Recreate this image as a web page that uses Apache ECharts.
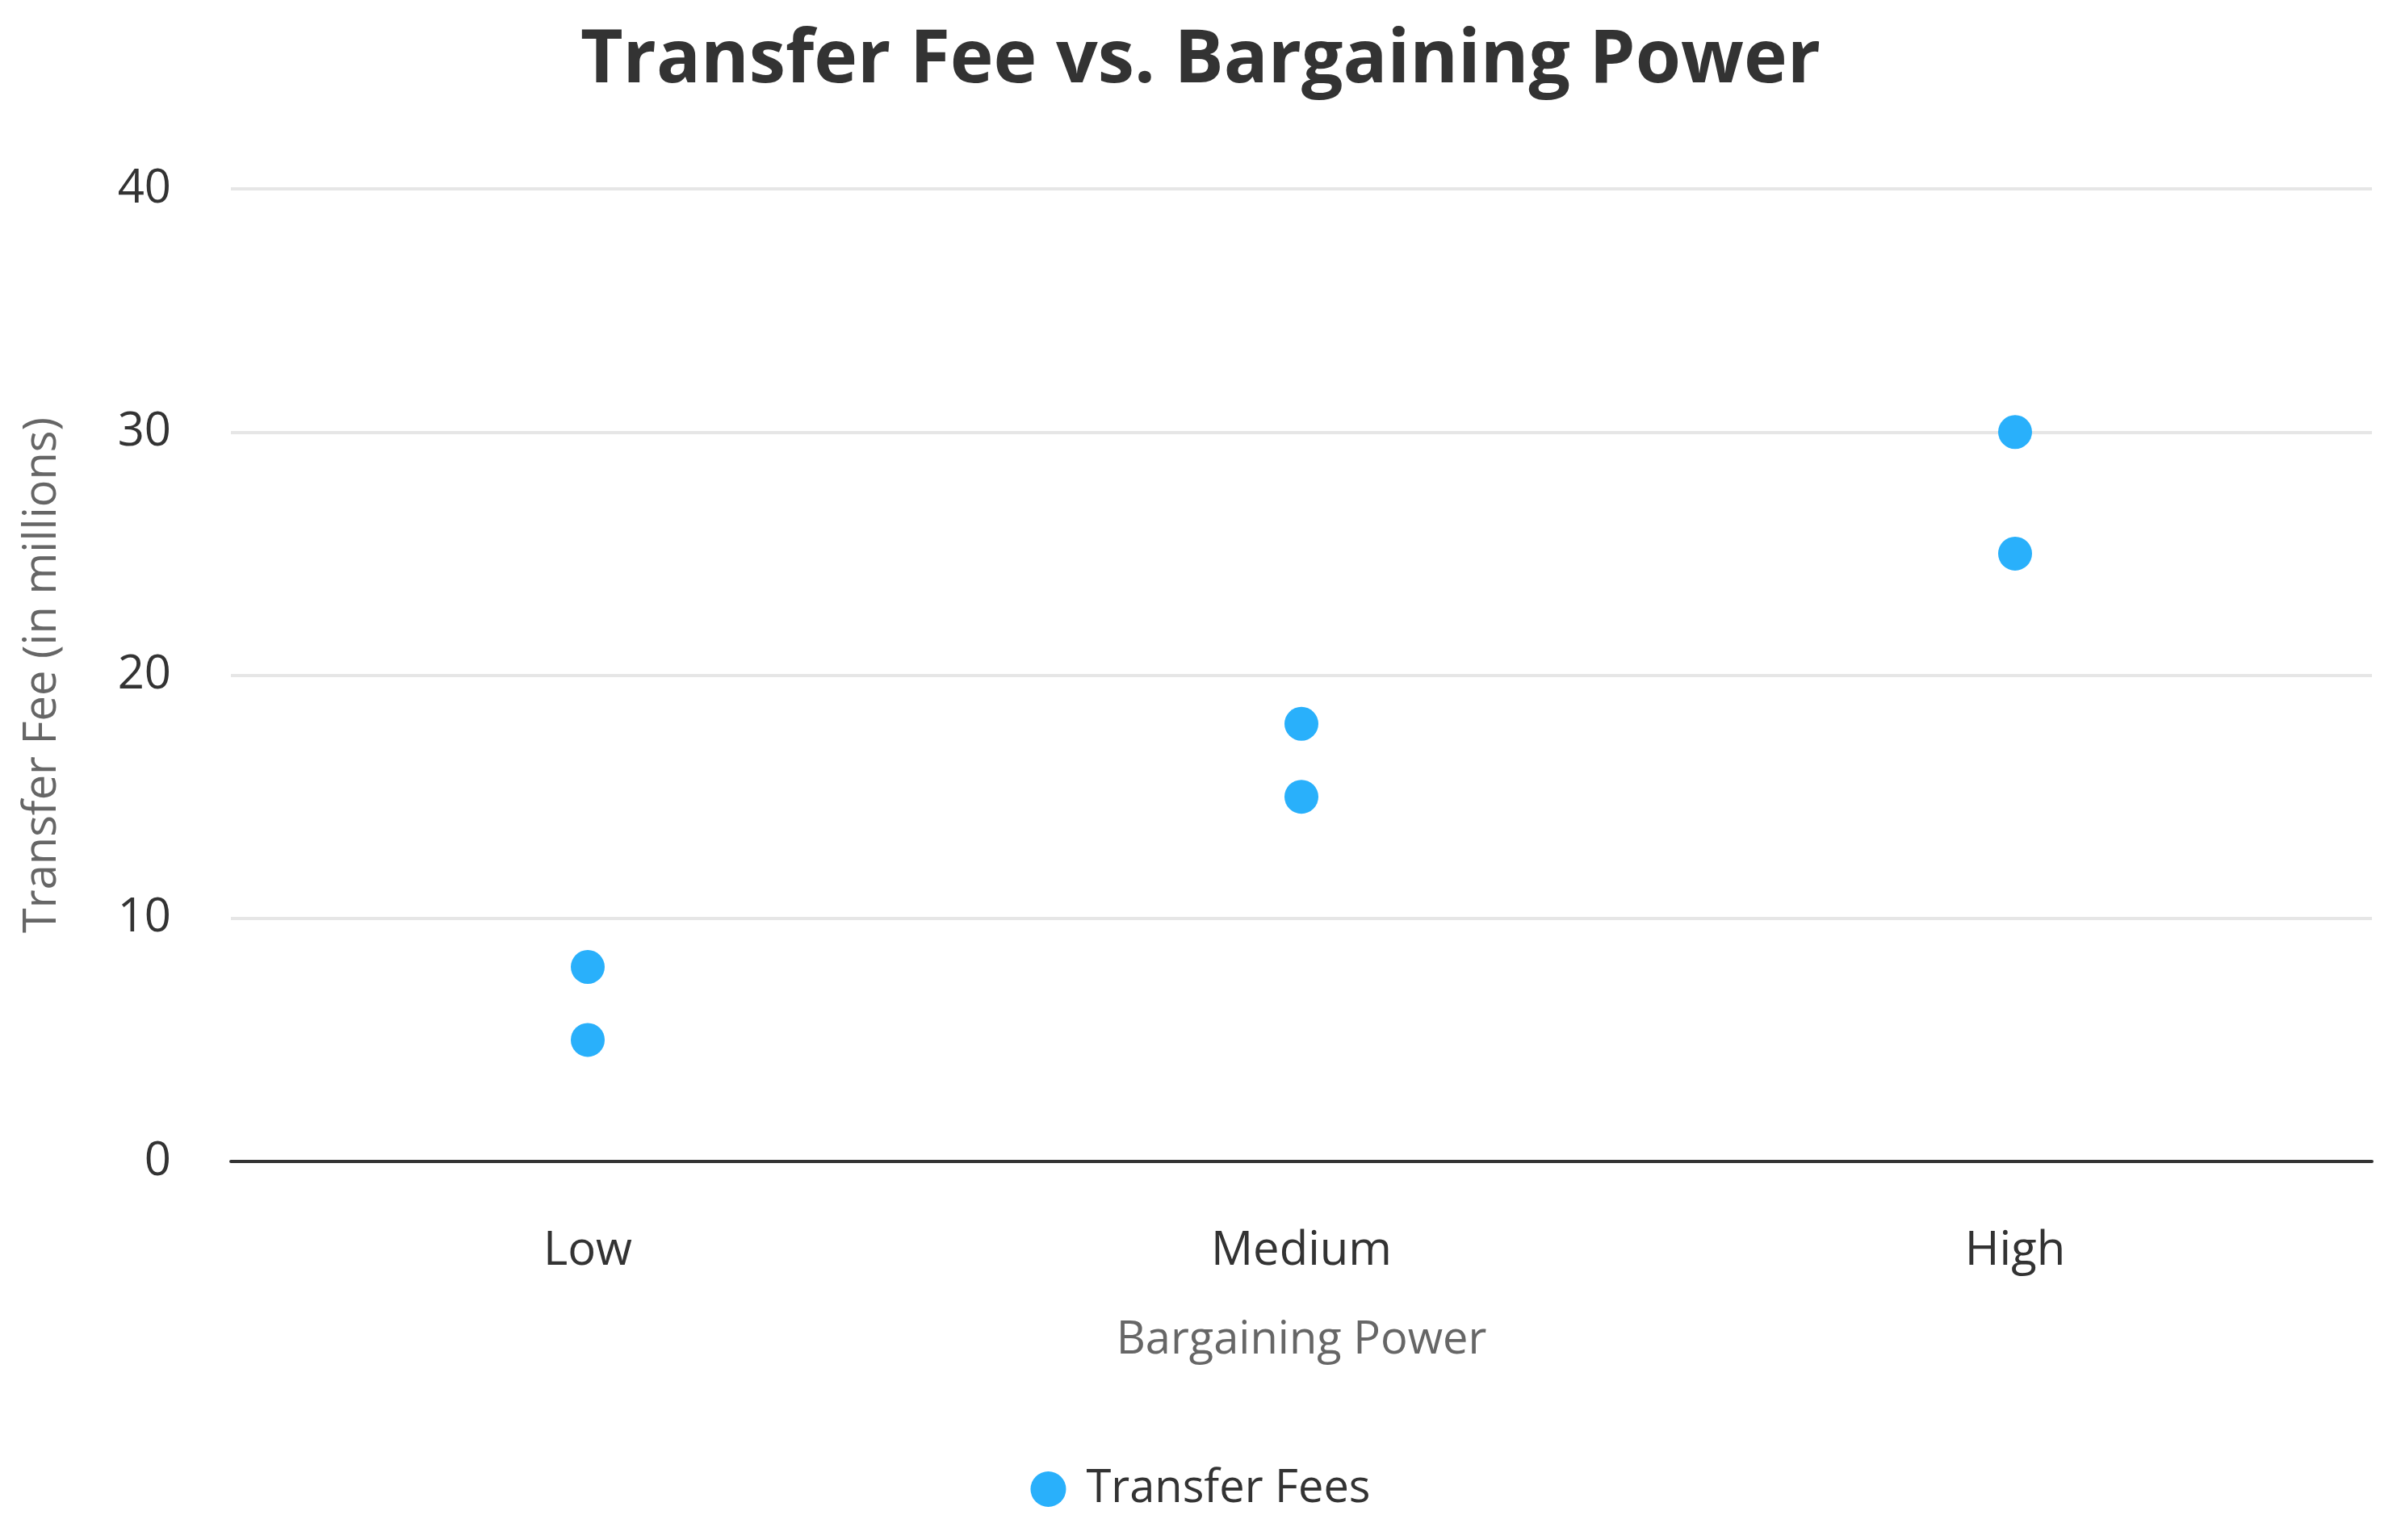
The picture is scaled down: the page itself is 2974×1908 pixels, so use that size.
<!DOCTYPE html>
<html><head><meta charset="utf-8">
<script src="https://cdn.jsdelivr.net/npm/echarts@6/dist/echarts.min.js"></script>
<style>html,body{margin:0;padding:0;background:#fff}#c{width:2974px;height:1908px}</style>
</head><body><div id="c"></div>
<script>
const categories = ['Low','Medium','High'];
const points = [['Low',5],['Low',8],['Medium',15],['Medium',18],['High',25],['High',30]];
const yTicks = {min:0,max:40,interval:10};
const chart = echarts.init(document.getElementById('c'));
const F = 'Open Sans';
chart.setOption({
  title:{text:'Transfer Fee vs. Bargaining Power',left:'center',top:26,
    textStyle:{fontFamily:F,fontSize:91,fontWeight:'bold',color:'#333'}},
  legend:{bottom:30,itemWidth:44,itemHeight:44,itemGap:20,icon:'circle',
    textStyle:{fontFamily:F,fontSize:56,color:'#333',padding:[0,0,0,20]},data:['Transfer Fees']},
  grid:{left:286,right:36,top:234,bottom:469},
  xAxis:{type:'category',data:categories,name:'Bargaining Power',nameLocation:'middle',nameGap:194,
    nameTextStyle:{fontFamily:F,fontSize:56,color:'#666'},
    axisLine:{lineStyle:{color:'#333',width:4}},axisTick:{show:false},
    axisLabel:{fontFamily:F,fontSize:58,color:'#333',margin:82}},
  yAxis:{type:'value',min:yTicks.min,max:yTicks.max,interval:yTicks.interval,
    name:'Transfer Fee (in millions)',nameLocation:'middle',nameGap:205,
    nameTextStyle:{fontFamily:F,fontSize:56,color:'#666'},
    axisLabel:{fontFamily:F,fontSize:58,color:'#333',margin:74},
    splitLine:{lineStyle:{color:'#e6e6e6',width:4}}},
  series:[{name:'Transfer Fees',type:'scatter',data:points,symbolSize:42,
    itemStyle:{color:'#29b0fb',opacity:1}}]
});
</script></body></html>
